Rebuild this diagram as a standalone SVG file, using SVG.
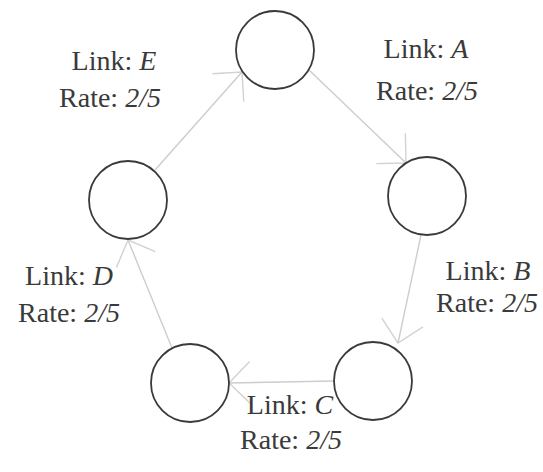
<svg xmlns="http://www.w3.org/2000/svg" width="543" height="472" viewBox="0 0 543 472">
<style>
.node{fill:none;stroke:#3a3a3a;stroke-width:1.8}
.edge{fill:none;stroke:#cdcdcd;stroke-width:1.4}
text{font-family:"Liberation Serif","Times New Roman",serif;font-size:28px;fill:#3a3a3a;text-anchor:middle}
.i{font-style:italic}
</style>
<defs>
<marker id="arr" markerUnits="userSpaceOnUse" markerWidth="50" markerHeight="50" viewBox="-25 -25 50 50" refX="0" refY="0" orient="auto">
<path d="M-21,-21 L0,0 L-21,21" fill="none" stroke="#d2d2d2" stroke-width="1.4"/>
</marker>
</defs>
<rect width="543" height="472" fill="#ffffff"/>
<g id="connectors">
<line class="edge" x1="155" y1="170" x2="242" y2="72" marker-end="url(#arr)"/>
<line class="edge" x1="309" y1="70" x2="406" y2="163" marker-end="url(#arr)"/>
<line class="edge" x1="421" y1="235" x2="398" y2="343" marker-end="url(#arr)"/>
<line class="edge" x1="334" y1="381" x2="229" y2="383" marker-end="url(#arr)"/>
<line class="edge" x1="172" y1="348" x2="128" y2="240" marker-end="url(#arr)"/>
</g>
<g id="node-top"><circle class="node" cx="275" cy="50" r="39"/></g>
<g id="node-right"><circle class="node" cx="427" cy="196" r="39"/></g>
<g id="node-left"><circle class="node" cx="128" cy="200" r="39"/></g>
<g id="node-bottom-left"><circle class="node" cx="190" cy="383" r="39"/></g>
<g id="node-bottom-right"><circle class="node" cx="373" cy="381" r="39"/></g>
<g id="label-E">
<text x="114" y="70">Link: <tspan class="i">E</tspan></text>
<text x="110" y="107">Rate: <tspan class="i">2/5</tspan></text>
</g>
<g id="label-A">
<text x="426" y="58">Link: <tspan class="i">A</tspan></text>
<text x="427" y="100">Rate: <tspan class="i">2/5</tspan></text>
</g>
<g id="label-B">
<text x="488" y="280">Link: <tspan class="i">B</tspan></text>
<text x="487" y="312">Rate: <tspan class="i">2/5</tspan></text>
</g>
<g id="label-D">
<text x="69" y="285">Link: <tspan class="i">D</tspan></text>
<text x="69" y="322">Rate: <tspan class="i">2/5</tspan></text>
</g>
<g id="label-C">
<text x="290" y="414">Link: <tspan class="i">C</tspan></text>
<text x="291" y="449">Rate: <tspan class="i">2/5</tspan></text>
</g>
</svg>
